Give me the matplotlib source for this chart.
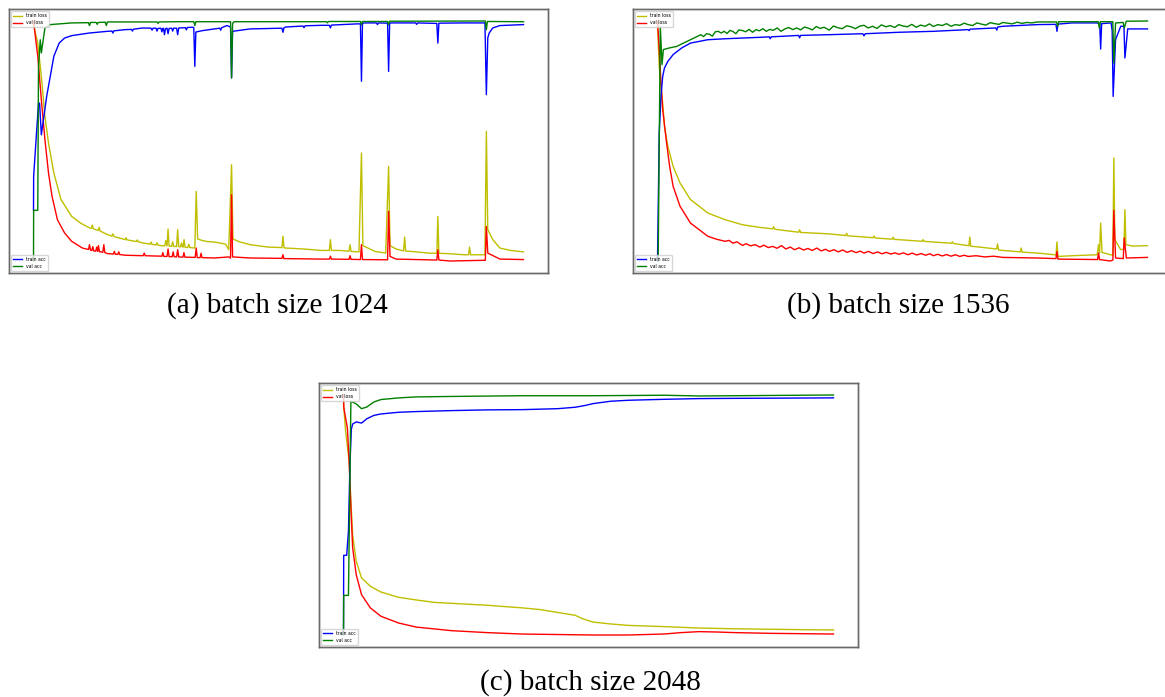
import matplotlib
matplotlib.use("Agg")
import matplotlib.pyplot as plt

# Each series: list of (epoch, value) points.
# Loss values are scaled to the plotted range (0..1), accuracy likewise.

# ---------------- Panel (a): batch size 1024 ----------------
a_train_loss = [(0, .985), (8.7, .908), (16, .769), (23.3, .603), (30.6, .492), (41.5, .367),
                (56.1, .256), (77.9, .186), (96, .158), (114.3, .138), (118, .136), (120, .150),
                (122, .134), (132, .127), (134, .140), (136, .125), (150.8, .110), (160, .104),
                (162, .113), (164, .102), (187.2, .089), (189, .097), (191, .088), (210, .081),
                (212, .088), (214, .080), (223.6, .075), (238, .070), (240, .079), (242, .069),
                (250, .067), (252, .076), (254, .066), (260, .064), (268, .063), (270, .085),
                (272.5, .063), (274.6, .133), (276.7, .062), (282, .061), (284, .080), (286, .061),
                (292.1, .060), (294.2, .131), (296.3, .060), (300, .059), (302, .075), (304, .058),
                (305.2, .058), (307.3, .089), (309.4, .057), (315, .056), (317, .070), (319, .056),
                (329.2, .054), (332.1, .290), (335, .092), (345, .085), (355, .081), (369.2, .079),
                (380, .075), (392, .070), (395, .060), (398.4, .047), (404.2, .401), (407.1, .092),
                (420, .080), (442.1, .068), (478.5, .058), (507, .056), (509.1, .103), (511.2, .055),
                (514.9, .054), (551.3, .050), (587.7, .044), (603.8, .044), (605.9, .089), (608, .044),
                (624.2, .044), (643.9, .041), (646, .068), (648.1, .040), (664.2, .038), (669.3, .450),
                (672.2, .064), (697, .040), (718.8, .033), (724.7, .394), (727.6, .064), (740, .050),
                (755.3, .042), (757.4, .100), (759.5, .041), (769.8, .040), (806.2, .033), (823.1, .032),
                (825.2, .186), (827.3, .032), (842.6, .031), (879, .026), (887.8, .026), (889.9, .058),
                (892, .026), (908.2, .026), (921.3, .026), (924.2, .540), (927.1, .131), (937.3, .089),
                (951.9, .054), (973.8, .044), (1000, .038)]

a_val_loss = [(0, 1.0), (8.7, .853), (16, .672), (23.3, .506), (30.6, .367), (37.9, .269),
              (48.8, .172), (63.4, .117), (77.9, .082), (99.8, .054), (110, .049), (112.2, .048),
              (114.3, .068), (116.4, .045), (119, .044), (121, .060), (123, .042), (127, .041),
              (129, .058), (131, .040), (132.5, .064), (134.6, .039), (138, .038), (141.4, .036),
              (143.5, .068), (145.6, .035), (150.8, .031), (163, .029), (165, .040), (167, .028),
              (172, .028), (174, .038), (176, .027), (187.2, .024), (223.6, .022), (226, .033),
              (228, .022), (262, .020), (264, .035), (266, .019), (270, .019), (272.5, .019),
              (274.6, .050), (276.7, .018), (283, .018), (285, .038), (287, .018), (292.1, .017),
              (294.2, .047), (296.4, .017), (305, .016), (307, .035), (309, .016), (330, .015),
              (332.1, .054), (334.2, .014), (340, .014), (342, .032), (344, .014), (369.2, .0125),
              (398.4, .017), (402.1, .012), (404.2, .276), (406.3, .017), (442.1, .0125), (507, .011),
              (509, .026), (511, .010), (514.9, .010), (587.7, .008), (604, .008), (606, .020),
              (608, .008), (644, .007), (646, .022), (648, .007), (667.2, .006), (669.3, .068),
              (671.4, .006), (722.6, .005), (724.7, .207), (727.6, .019), (740, .008), (823.1, .004),
              (825.2, .047), (827.3, .004), (850, .0), (922.1, .003), (924.2, .144), (927.1, .033),
              (951.9, .008), (1000, .006)]

a_train_acc = [(0, .211), (0.3, .353), (10.2, .658), (12.4, .658), (16, .526), (26.9, .686),
               (41.5, .853), (52.4, .908), (63.4, .929), (77.9, .939), (114.3, .950), (150.8, .957),
               (160, .958), (162, .950), (164, .959), (187.2, .964), (200, .965), (202, .958),
               (204, .966), (223.6, .971), (240, .970), (242, .962), (244, .970), (250, .970),
               (252, .958), (254, .969), (260, .970), (262, .955), (264, .969), (265.2, .970),
               (267.3, .943), (269.4, .968), (272.5, .970), (274.6, .947), (276.7, .969), (282, .970),
               (284, .958), (286, .970), (292.1, .970), (294.2, .943), (296.4, .971), (310, .972),
               (312, .963), (314, .973), (325.5, .974), (327.1, .972), (329.2, .811), (331.3, .954),
               (345, .960), (369.2, .967), (380, .970), (382, .962), (384, .972), (394.7, .981),
               (402.1, .975), (404.2, .763), (406.3, .957), (442.1, .967), (507, .970), (509.1, .953),
               (511.2, .972), (514.9, .975), (550, .979), (552, .972), (554, .980), (587.7, .982),
               (603.8, .982), (605.9, .971), (608, .983), (660.6, .988), (667.2, .988), (669.3, .749),
               (671.4, .990), (675.2, .992), (700, .992), (702, .985), (704, .992), (722.6, .991),
               (724.7, .790), (726.8, .990), (729.8, .992), (780, .992), (782, .986), (784, .992),
               (823.1, .990), (825.2, .908), (827.3, .991), (879, .992), (921.3, .992), (924.2, .693),
               (927.1, .930), (930, .950), (937.3, .971), (951.9, .981), (1000, .985)]

a_val_acc = [(0, 0.0), (0.3, .211), (8.7, .211), (10.2, .811), (13.8, .922), (16, .867),
             (23.3, .971), (34.2, .985), (77.9, .992), (112.2, .993), (114.3, .981), (116.4, .994),
             (128, .994), (130, .986), (132, .994), (146.5, .995), (148.6, .981), (150.8, .996),
             (252, .996), (254, .990), (256, .996), (296.4, .997), (327.1, .997), (329.2, .981),
             (331.3, .997), (402.1, .997), (404.2, .763), (406.3, .990), (409.3, .997), (598, .997),
             (600, .992), (602, .998), (667.2, .998), (669.3, .985), (671.4, .998), (722.6, .998),
             (724.7, .985), (726.8, .999), (922.1, 1.0), (924.2, .964), (926.3, .998), (1000, .997)]

# ---------------- Panel (b): batch size 1536 ----------------
b_train_loss = [(0, .992), (3.5, .811), (7.1, .728), (10.6, .658), (14.2, .561), (21.2, .478),
                (31.9, .394), (46, .325), (67.3, .256), (102.7, .200), (138.1, .172), (173.5, .151),
                (208.9, .140), (235, .134), (237, .143), (239, .133), (244.3, .131), (279.7, .122),
                (288, .120), (290, .130), (292, .119), (350.6, .113), (384, .106), (386, .115),
                (388, .105), (421.4, .100), (440, .097), (442, .104), (444, .096), (479, .091),
                (481, .099), (483, .090), (492.2, .089), (540, .082), (542, .089), (544, .082),
                (563, .079), (600, .074), (602, .080), (604, .073), (633.8, .064), (635.5, .063),
                (637.4, .100), (639.2, .062), (692, .050), (694, .071), (696, .046), (704.7, .044),
                (740.5, .038), (742.3, .054), (744.1, .037), (775.5, .033), (810.9, .026),
                (813.2, .024), (815.2, .079), (817.2, .019), (846.3, .022), (897.3, .026),
                (900.1, .068), (902.2, .033), (904.4, .158), (907.2, .036), (924.2, .026),
                (929.3, .024), (931.3, .429), (933.3, .089), (945.4, .047), (951.9, .050),
                (953.9, .214), (955.9, .068), (970, .062), (1000, .064)]

b_val_loss = [(0, 1.0), (3.5, .881), (7.1, .742), (10.6, .631), (17.7, .506), (24.8, .394),
              (31.9, .311), (46, .228), (67.3, .158), (102.7, .103), (120, .091), (138.1, .082),
              (146, .086), (154, .074), (162, .080), (173.5, .065), (181, .072), (190, .063),
              (199, .068), (208.9, .058), (217, .066), (226, .056), (235, .061), (244, .053),
              (253, .064), (262, .050), (271, .058), (279.7, .047), (289, .055), (298, .046),
              (307, .052), (316, .044), (325, .054), (334, .042), (343, .049), (350.6, .040),
              (360, .047), (369, .038), (378, .046), (387, .036), (396, .043), (405, .035),
              (414, .041), (421.4, .033), (431, .040), (440, .031), (449, .038), (458, .030),
              (467, .036), (476, .029), (485, .034), (492.2, .028), (502, .034), (511, .026),
              (520, .033), (529, .025), (538, .031), (547, .024), (556, .030), (563, .022),
              (572, .028), (581, .021), (590, .027), (599, .020), (608, .026), (617, .019),
              (626, .024), (633.8, .019), (650, .022), (668, .017), (686, .020), (704.7, .015),
              (775.5, .0125), (813.2, .010), (815.2, .040), (817.2, .008), (898.1, .006),
              (900.1, .033), (902.1, .006), (924.2, 0.0), (929.3, .004), (931.3, .211),
              (934.8, .0125), (950.5, .010), (952.5, .096), (956.8, .0125), (1000, .015)]

b_train_acc = [(0, 0.0), (3.5, .533), (7.1, .686), (10.6, .769), (14.2, .804), (21.2, .832),
               (31.9, .860), (49.6, .888), (67.3, .908), (102.7, .922), (138.1, .926), (208.9, .932),
               (228, .934), (230, .926), (232, .934), (279.7, .939), (288, .940), (290, .930),
               (292, .940), (350.6, .943), (419, .947), (421.4, .938), (424, .947), (492.2, .953),
               (563, .957), (633.8, .964), (636, .960), (638, .966), (690.5, .971), (692.5, .962),
               (694.5, .975), (704.7, .978), (775.5, .985), (813.2, .986), (815.2, .957),
               (817.2, .987), (846.3, .992), (895.9, .992), (902.4, .990), (904.4, .883),
               (906.4, .989), (925.7, .992), (927.9, .960), (929.9, .686), (934.8, .922),
               (945.4, .978), (951.9, .978), (953.9, .846), (959.6, .967), (1000, .967)]

b_val_acc = [(1.4, 0.0), (5.7, .978), (9.2, .818), (12, .881), (24.8, .888), (39, .894),
             (60.2, .915), (88.5, .943), (94, .935), (100, .947), (106, .945), (112, .937),
             (118, .955), (123.9, .957), (130, .950), (136, .957), (142, .948), (148, .961),
             (154, .956), (160, .947), (166, .963), (173.5, .960), (180, .955), (187, .965),
             (194, .953), (201, .964), (208, .959), (215, .968), (222, .957), (229, .965),
             (236, .961), (244.3, .971), (252, .957), (260, .967), (268, .973), (276, .964),
             (284, .971), (292, .963), (300, .975), (308, .970), (316, .963), (324, .977),
             (332, .969), (340, .974), (350.6, .962), (359, .979), (368, .972), (377, .968),
             (386, .980), (395, .976), (404, .968), (413, .979), (421.4, .982), (430, .971),
             (439, .978), (448, .969), (457, .984), (466, .976), (475, .981), (484, .973),
             (492.2, .985), (501, .979), (510, .976), (519, .986), (528, .974), (537, .983),
             (546, .978), (555, .988), (563, .977), (572, .985), (581, .981), (590, .989),
             (599, .978), (608, .985), (617, .982), (626, .991), (633.8, .985), (643, .981),
             (652, .992), (661, .987), (670, .983), (679, .993), (688, .989), (697, .986),
             (704.7, .994), (714, .991), (724, .988), (734, .995), (744, .990), (754, .994),
             (764, .992), (775.5, .996), (814.5, .996), (816.6, .978), (818.7, .997),
             (899.5, .997), (901.6, .971), (903.7, .997), (929.2, .997), (931.3, .825),
             (934.8, .992), (950.4, .994), (952.5, .971), (956.8, .999), (1000, 1.0)]

# ---------------- Panel (c): batch size 2048 ----------------
c_train_loss = [(0, .97), (0.7, .946), (4.3, .849), (11.5, .724), (15.1, .557), (18.7, .418),
                (26, .307), (36.8, .238), (54.8, .203), (76.4, .179), (112.5, .157), (148.5, .146),
                (184.6, .136), (220.6, .132), (292.7, .124), (364.8, .113), (400.9, .106),
                (436.9, .094), (473, .082), (487.4, .068), (509, .054), (545.1, .046), (581.1, .040),
                (653.2, .035), (725.3, .029), (797.4, .026), (869.5, .024), (941.6, .022), (1000, .021)]

c_val_loss = [(0, 1.0), (0.7, .946), (7.9, .863), (11.5, .724), (15.1, .529), (18.7, .363),
              (26, .251), (36.8, .168), (54.8, .113), (76.4, .078), (112.5, .050), (148.5, .033),
              (220.6, .018), (292.7, .010), (364.8, .004), (436.9, .002), (509, 0.0), (581.1, 0.0),
              (653.2, .004), (689.3, .010), (725.3, .014), (761.4, .0125), (797.4, .010),
              (869.5, .007), (1000, .004)]

c_train_acc = [(0, 0.0), (0.4, .332), (6.5, .332), (10.1, .432), (13, .696), (15.9, .856),
               (18.7, .879), (26, .888), (36.8, .883), (47.6, .901), (62, .915), (76.4, .921),
               (112.5, .928), (148.5, .931), (220.6, .935), (292.7, .938), (364.8, .939),
               (436.9, .943), (473, .949), (494.6, .957), (509, .964), (545.1, .974), (581.1, .978),
               (653.2, .982), (725.3, .985), (797.4, .986), (1000, .988)]

c_val_acc = [(0, 0.0), (0.4, .165), (10.1, .165), (15.1, .974), (26, .963), (36.8, .943),
             (47.6, .950), (62, .971), (76.4, .981), (112.5, .988), (148.5, .992), (220.6, .994),
             (364.8, .997), (509, .997), (653.2, .999), (725.3, .996), (797.4, .997), (1000, 1.0)]

captions = ["(a) batch size 1024", "(b) batch size 1536", "(c) batch size 2048"]
series_labels = ["train loss", "val loss", "train acc", "val acc"]

# ---------------- figure ----------------
W, H = 1165, 697
fig = plt.figure(figsize=(W / 100, H / 100), dpi=100)


def box(x0, y0, x1, y1):
    return [x0 / W, 1 - y1 / H, (x1 - x0) / W, (y1 - y0) / H]


def xy(points):
    xs, ys = zip(*points)
    return list(xs), list(ys)


panels = [
    (box(9, 9, 548, 273), a_train_loss, a_val_loss, a_train_acc, a_val_acc),
    (box(633, 9, 1172, 273), b_train_loss, b_val_loss, b_train_acc, b_val_acc),
    (box(319, 383, 858, 647), c_train_loss, c_val_loss, c_train_acc, c_val_acc),
]

lw = 1.0
for rect, tl, vl, ta, va in panels:
    ax = fig.add_axes(rect)
    ax2 = ax.twinx()
    l1, = ax.plot(*xy(tl), color='y', lw=lw, label=series_labels[0])
    l2, = ax.plot(*xy(vl), color='r', lw=lw, label=series_labels[1])
    l3, = ax2.plot(*xy(ta), color='b', lw=lw, label=series_labels[2])
    l4, = ax2.plot(*xy(va), color='g', lw=lw, label=series_labels[3])
    for a in (ax, ax2):
        a.set_xticks([])
        a.set_yticks([])
        for s in a.spines.values():
            s.set_color('#6a6a6a')
            s.set_linewidth(1.0)
    leg1 = ax2.legend(handles=[l1, l2], loc='upper left', fontsize=3.3)
    ax2.add_artist(leg1)
    ax2.legend(handles=[l3, l4], loc='lower left', fontsize=3.3)

cap_font = dict(family=['Liberation Serif', 'DejaVu Serif'], size=21, ha='center', va='center')
fig.text(277 / W, 1 - 306 / H, captions[0], **cap_font)
fig.text(898 / W, 1 - 306 / H, captions[1], **cap_font)
fig.text(590 / W, 1 - 683 / H, captions[2], **cap_font)

fig.savefig("out.png", dpi=100)
